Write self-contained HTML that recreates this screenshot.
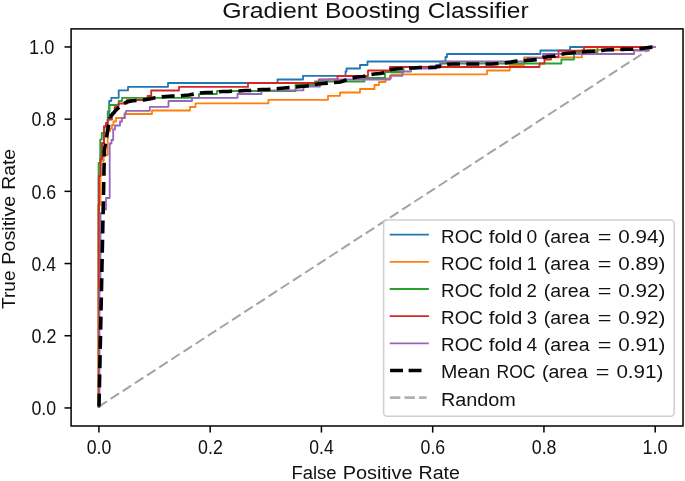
<!DOCTYPE html><html><head><meta charset="utf-8"><style>html,body{margin:0;padding:0;background:#fff;overflow:hidden}svg{display:block;filter:blur(0.35px)}</style></head><body>
<svg width="685" height="481" viewBox="0 0 685 481">
<rect width="685" height="481" fill="#fff"/>
<text x="222.17" y="17.50" font-size="22.5" font-family="Liberation Sans, sans-serif" fill="#111" textLength="95.35" lengthAdjust="spacingAndGlyphs">Gradient</text>
<text x="324.98" y="17.50" font-size="22.5" font-family="Liberation Sans, sans-serif" fill="#111" textLength="95.53" lengthAdjust="spacingAndGlyphs">Boosting</text>
<text x="427.86" y="17.50" font-size="22.5" font-family="Liberation Sans, sans-serif" fill="#111" textLength="100.76" lengthAdjust="spacingAndGlyphs">Classifier</text>
<line x1="99.51" y1="406.15" x2="655.19" y2="45.45" stroke="#a4a4a4" stroke-width="2.0" stroke-dasharray="10.1,4.386" stroke-dashoffset="1.26"/>
<path d="M98.8,408.0 L98.8,176.0 L100.5,176.0 L100.5,159.0 L102.0,159.0 L102.0,143.0 L104.0,143.0 L104.0,126.5 L106.0,126.5 L106.0,123.0 L107.7,123.0 L107.7,119.6 L109.2,119.6 L109.2,101.0 L111.3,101.0 L111.3,97.8 L118.7,97.8 L118.7,90.4 L128.0,90.4 L128.0,86.8 L168.0,86.8 L168.0,83.0 L277.5,83.0 L277.5,79.5 L303.0,79.5 L303.0,75.8 L345.5,75.8 L345.5,71.5 L346.5,71.5 L346.5,68.5 L360.0,68.5 L360.0,65.0 L367.5,65.0 L367.5,61.5 L445.5,61.5 L445.5,57.0 L447.0,57.0 L447.0,54.0 L540.4,54.0 L540.4,50.5 L570.0,50.5 L570.0,47.0 L655.3,47.0" fill="none" stroke="#1f77b4" stroke-width="1.8" stroke-linejoin="round"/>
<path d="M98.8,408.0 L98.2,400.0 L98.2,205.0 L100.5,205.0 L100.5,161.0 L103.8,161.0 L103.8,155.0 L107.7,155.0 L107.7,131.0 L110.0,131.0 L110.0,128.5 L112.0,128.5 L112.0,125.0 L113.5,125.0 L113.5,121.5 L116.0,121.5 L116.0,118.0 L123.5,118.0 L125.0,118.0 L125.0,114.0 L152.0,114.0 L152.0,110.5 L190.0,110.5 L190.0,107.0 L195.5,107.0 L195.5,103.4 L268.4,103.4 L268.4,99.8 L328.0,99.8 L328.0,95.8 L340.0,95.8 L340.0,92.5 L360.0,92.5 L360.0,89.0 L374.5,89.0 L374.5,85.0 L379.0,85.0 L379.0,82.0 L385.5,82.0 L385.5,78.5 L391.0,78.5 L391.0,74.3 L487.0,74.3 L487.0,70.5 L509.7,70.5 L509.7,65.0 L524.0,65.0 L524.0,57.3 L582.0,57.3 L582.0,50.0 L640.0,50.0 L640.0,47.0 L655.3,47.0" fill="none" stroke="#ff7f0e" stroke-width="1.8" stroke-linejoin="round"/>
<path d="M98.8,408.0 L98.6,176.0 L98.6,163.0 L100.2,163.0 L100.2,139.5 L101.8,139.5 L101.8,133.0 L106.5,133.0 L106.5,128.0 L107.7,128.0 L107.7,111.5 L109.5,111.5 L109.5,105.0 L118.7,105.0 L118.7,101.0 L122.0,101.0 L122.0,97.8 L199.0,97.8 L199.0,94.0 L217.0,94.0 L217.0,91.0 L295.5,91.0 L295.5,85.0 L315.0,85.0 L315.0,81.5 L364.5,81.5 L364.5,78.0 L385.0,78.0 L385.0,72.0 L403.5,72.0 L403.5,67.0 L440.0,67.0 L440.0,63.5 L561.4,63.5 L561.4,59.5 L574.0,59.5 L574.0,52.0 L597.5,52.0 L597.5,47.0 L655.3,47.0" fill="none" stroke="#2ca02c" stroke-width="1.8" stroke-linejoin="round"/>
<path d="M98.8,408.0 L98.8,176.0 L100.5,176.0 L100.5,159.0 L102.0,159.0 L102.0,143.0 L104.0,143.0 L104.0,126.5 L106.0,126.5 L106.0,123.0 L107.7,123.0 L107.7,119.6 L112.0,119.6 L112.0,113.0 L114.7,113.0 L114.7,107.0 L118.5,107.0 L118.5,103.5 L127.0,103.5 L127.0,100.0 L147.5,100.0 L147.5,96.0 L151.2,96.0 L151.2,90.5 L179.0,90.5 L179.0,86.9 L248.0,86.9 L248.0,83.0 L319.0,83.0 L319.0,79.3 L337.5,79.3 L337.5,76.0 L368.0,76.0 L368.0,70.5 L390.0,70.5 L390.0,67.0 L539.5,67.0 L539.5,63.5 L544.5,63.5 L544.5,59.5 L551.0,59.5 L551.0,57.0 L558.5,57.0 L558.5,50.7 L584.0,50.7 L584.0,47.0 L655.3,47.0" fill="none" stroke="#d62728" stroke-width="1.8" stroke-linejoin="round"/>
<path d="M98.8,408.0 L99.5,400.0 L99.5,289.0 L100.5,289.0 L100.5,213.0 L104.0,213.0 L104.0,209.5 L106.0,209.5 L106.0,198.0 L109.7,198.0 L109.7,143.5 L111.5,143.5 L111.5,140.0 L113.2,140.0 L113.2,129.5 L115.0,129.5 L115.0,125.5 L120.0,125.5 L120.0,121.5 L122.0,121.5 L122.0,118.0 L124.5,118.0 L124.5,113.5 L126.0,113.5 L126.0,110.8 L149.8,110.8 L149.8,106.8 L168.5,106.8 L168.5,101.0 L192.0,101.0 L192.0,97.8 L237.5,97.8 L237.5,94.0 L261.4,94.0 L261.4,90.3 L303.5,90.3 L303.5,86.5 L320.0,86.5 L320.0,80.0 L329.0,80.0 L329.0,79.5 L390.0,79.5 L390.0,75.8 L402.5,75.8 L402.5,71.5 L411.0,71.5 L411.0,68.5 L436.0,68.5 L436.0,65.0 L441.4,65.0 L441.4,61.5 L527.0,61.5 L527.0,58.0 L543.0,58.0 L543.0,54.0 L634.0,54.0 L634.0,50.5 L649.0,50.5 L649.0,47.0 L655.3,47.0" fill="none" stroke="#9467bd" stroke-width="1.8" stroke-linejoin="round"/>
<path d="M99.00,406.60 L104.42,150.00 L110.04,117.00" fill="none" stroke="#000" stroke-width="3.6" stroke-dasharray="13.0,6.24" stroke-dashoffset="0.00"/>
<path d="M110.04,117.00 L115.66,110.50 L121.28,105.00 L126.91,102.00 L132.53,100.80 L138.15,100.30 L143.77,100.00 L149.39,99.00 L155.01,97.70 L160.63,97.00 L166.25,96.50 L171.88,96.00 L177.50,96.00 L183.12,95.50 L188.74,95.00 L194.36,94.00 L199.98,93.00 L205.60,92.50 L211.22,92.50 L216.85,92.00 L222.47,91.50 L228.09,91.50 L233.71,91.00 L239.33,91.00 L244.95,90.50 L250.57,90.50 L256.19,90.00 L261.81,89.50 L267.44,89.50 L273.06,89.00 L278.68,88.50 L284.30,88.00 L289.92,87.50 L295.54,87.00 L301.16,86.50 L306.78,86.00 L312.41,85.00 L318.03,84.00 L323.65,83.50 L329.27,83.00 L334.89,82.50 L340.51,82.00 L346.13,80.00 L351.75,78.00 L357.38,77.00 L363.00,76.50 L368.62,75.00 L374.24,74.00 L379.86,73.50 L385.48,72.50 L391.10,69.50 L396.72,69.00 L402.34,68.50 L407.97,68.00 L413.59,68.00 L419.21,67.50 L424.83,67.50 L430.45,67.40 L436.07,67.00 L441.69,66.00 L447.31,64.20 L452.94,64.00 L458.56,64.00 L464.18,64.00 L469.80,64.00 L475.42,64.00 L481.04,64.00 L486.66,64.00 L492.28,64.00 L497.91,63.50 L503.53,63.20 L509.15,62.40 L514.77,61.40 L520.39,60.90 L526.01,60.50 L531.63,60.10 L537.25,59.60 L542.87,57.50 L548.50,56.50 L554.12,56.00 L559.74,54.50 L565.36,53.50 L570.98,53.00" fill="none" stroke="#000" stroke-width="3.6" stroke-dasharray="13.0,6.24" stroke-dashoffset="18.90"/>
<path d="M570.98,53.00 L576.60,52.50 L582.22,52.00 L587.84,51.50 L593.47,51.20 L599.09,51.00 L604.71,50.00 L610.33,49.80 L615.95,49.60 L621.57,49.40 L627.19,49.30 L632.81,49.20 L638.44,48.70 L644.06,48.20 L649.68,47.20 L655.30,47.00" fill="none" stroke="#000" stroke-width="3.6" stroke-dasharray="13.0,6.24" stroke-dashoffset="8.20"/>
<rect x="71.1" y="28.9" width="611.9" height="397.1" fill="none" stroke="#000" stroke-width="1.5"/>
<line x1="98.91" y1="426.0" x2="98.91" y2="432.60" stroke="#000" stroke-width="1.5"/>
<line x1="71.1" y1="407.95" x2="64.50" y2="407.95" stroke="#000" stroke-width="1.5"/>
<text x="86.81" y="454.10" font-size="19.6" font-family="Liberation Sans, sans-serif" fill="#111" textLength="24.57" lengthAdjust="spacingAndGlyphs">0.0</text>
<text x="31.49" y="415.25" font-size="19.6" font-family="Liberation Sans, sans-serif" fill="#111" textLength="24.68" lengthAdjust="spacingAndGlyphs">0.0</text>
<line x1="210.17" y1="426.0" x2="210.17" y2="432.60" stroke="#000" stroke-width="1.5"/>
<line x1="71.1" y1="335.75" x2="64.50" y2="335.75" stroke="#000" stroke-width="1.5"/>
<text x="198.05" y="454.10" font-size="19.6" font-family="Liberation Sans, sans-serif" fill="#111" textLength="24.81" lengthAdjust="spacingAndGlyphs">0.2</text>
<text x="31.48" y="343.05" font-size="19.6" font-family="Liberation Sans, sans-serif" fill="#111" textLength="24.92" lengthAdjust="spacingAndGlyphs">0.2</text>
<line x1="321.42" y1="426.0" x2="321.42" y2="432.60" stroke="#000" stroke-width="1.5"/>
<line x1="71.1" y1="263.55" x2="64.50" y2="263.55" stroke="#000" stroke-width="1.5"/>
<text x="309.32" y="454.10" font-size="19.6" font-family="Liberation Sans, sans-serif" fill="#111" textLength="24.39" lengthAdjust="spacingAndGlyphs">0.4</text>
<text x="31.50" y="270.85" font-size="19.6" font-family="Liberation Sans, sans-serif" fill="#111" textLength="24.49" lengthAdjust="spacingAndGlyphs">0.4</text>
<line x1="432.68" y1="426.0" x2="432.68" y2="432.60" stroke="#000" stroke-width="1.5"/>
<line x1="71.1" y1="191.35" x2="64.50" y2="191.35" stroke="#000" stroke-width="1.5"/>
<text x="420.57" y="454.10" font-size="19.6" font-family="Liberation Sans, sans-serif" fill="#111" textLength="24.67" lengthAdjust="spacingAndGlyphs">0.6</text>
<text x="31.49" y="198.65" font-size="19.6" font-family="Liberation Sans, sans-serif" fill="#111" textLength="24.77" lengthAdjust="spacingAndGlyphs">0.6</text>
<line x1="543.93" y1="426.0" x2="543.93" y2="432.60" stroke="#000" stroke-width="1.5"/>
<line x1="71.1" y1="119.15" x2="64.50" y2="119.15" stroke="#000" stroke-width="1.5"/>
<text x="531.82" y="454.10" font-size="19.6" font-family="Liberation Sans, sans-serif" fill="#111" textLength="24.67" lengthAdjust="spacingAndGlyphs">0.8</text>
<text x="31.49" y="126.45" font-size="19.6" font-family="Liberation Sans, sans-serif" fill="#111" textLength="24.77" lengthAdjust="spacingAndGlyphs">0.8</text>
<line x1="655.19" y1="426.0" x2="655.19" y2="432.60" stroke="#000" stroke-width="1.5"/>
<line x1="71.1" y1="46.95" x2="64.50" y2="46.95" stroke="#000" stroke-width="1.5"/>
<text x="642.42" y="454.10" font-size="19.6" font-family="Liberation Sans, sans-serif" fill="#111" textLength="25.25" lengthAdjust="spacingAndGlyphs">1.0</text>
<text x="29.04" y="54.25" font-size="19.6" font-family="Liberation Sans, sans-serif" fill="#111" textLength="25.25" lengthAdjust="spacingAndGlyphs">1.0</text>
<text x="291.45" y="479.20" font-size="19.2" font-family="Liberation Sans, sans-serif" fill="#111" textLength="45.17" lengthAdjust="spacingAndGlyphs">False</text>
<text x="342.69" y="479.20" font-size="19.2" font-family="Liberation Sans, sans-serif" fill="#111" textLength="69.81" lengthAdjust="spacingAndGlyphs">Positive</text>
<text x="418.50" y="479.20" font-size="19.2" font-family="Liberation Sans, sans-serif" fill="#111" textLength="41.40" lengthAdjust="spacingAndGlyphs">Rate</text>
<text transform="translate(15.40,308.50) rotate(-90)" x="-0.47" y="0" font-size="19.2" font-family="Liberation Sans, sans-serif" fill="#111" textLength="38.45" lengthAdjust="spacingAndGlyphs">True</text>
<text transform="translate(15.40,308.50) rotate(-90)" x="43.88" y="0" font-size="19.2" font-family="Liberation Sans, sans-serif" fill="#111" textLength="68.88" lengthAdjust="spacingAndGlyphs">Positive</text>
<text transform="translate(15.40,308.50) rotate(-90)" x="118.69" y="0" font-size="19.2" font-family="Liberation Sans, sans-serif" fill="#111" textLength="40.86" lengthAdjust="spacingAndGlyphs">Rate</text>
<rect x="383.6" y="220.0" width="290.6" height="196.2" rx="3.5" fill="#fff" fill-opacity="0.8" stroke="#cfcfcf" stroke-width="1.5"/>
<line x1="389.7" y1="234.70" x2="428.9" y2="234.70" stroke="#1f77b4" stroke-width="1.8"/>
<text x="441.05" y="242.70" font-size="19.2" font-family="Liberation Sans, sans-serif" fill="#111" textLength="41.86" lengthAdjust="spacingAndGlyphs">ROC</text>
<text x="488.69" y="242.70" font-size="19.2" font-family="Liberation Sans, sans-serif" fill="#111" textLength="33.67" lengthAdjust="spacingAndGlyphs">fold</text>
<text x="526.57" y="242.70" font-size="19.2" font-family="Liberation Sans, sans-serif" fill="#111" textLength="10.70" lengthAdjust="spacingAndGlyphs">0</text>
<text x="543.84" y="242.70" font-size="19.2" font-family="Liberation Sans, sans-serif" fill="#111" textLength="45.69" lengthAdjust="spacingAndGlyphs">(area</text>
<text x="597.75" y="242.70" font-size="19.2" font-family="Liberation Sans, sans-serif" fill="#111" textLength="13.67" lengthAdjust="spacingAndGlyphs">=</text>
<text x="618.34" y="242.70" font-size="19.2" font-family="Liberation Sans, sans-serif" fill="#111" textLength="46.93" lengthAdjust="spacingAndGlyphs">0.94)</text>
<line x1="389.7" y1="261.85" x2="428.9" y2="261.85" stroke="#ff7f0e" stroke-width="1.8"/>
<text x="441.05" y="269.85" font-size="19.2" font-family="Liberation Sans, sans-serif" fill="#111" textLength="41.86" lengthAdjust="spacingAndGlyphs">ROC</text>
<text x="488.69" y="269.85" font-size="19.2" font-family="Liberation Sans, sans-serif" fill="#111" textLength="33.67" lengthAdjust="spacingAndGlyphs">fold</text>
<text x="526.79" y="269.85" font-size="19.2" font-family="Liberation Sans, sans-serif" fill="#111" textLength="10.18" lengthAdjust="spacingAndGlyphs">1</text>
<text x="543.84" y="269.85" font-size="19.2" font-family="Liberation Sans, sans-serif" fill="#111" textLength="45.69" lengthAdjust="spacingAndGlyphs">(area</text>
<text x="597.75" y="269.85" font-size="19.2" font-family="Liberation Sans, sans-serif" fill="#111" textLength="13.67" lengthAdjust="spacingAndGlyphs">=</text>
<text x="618.34" y="269.85" font-size="19.2" font-family="Liberation Sans, sans-serif" fill="#111" textLength="46.93" lengthAdjust="spacingAndGlyphs">0.89)</text>
<line x1="389.7" y1="289.00" x2="428.9" y2="289.00" stroke="#2ca02c" stroke-width="1.8"/>
<text x="441.05" y="297.00" font-size="19.2" font-family="Liberation Sans, sans-serif" fill="#111" textLength="41.86" lengthAdjust="spacingAndGlyphs">ROC</text>
<text x="488.69" y="297.00" font-size="19.2" font-family="Liberation Sans, sans-serif" fill="#111" textLength="33.67" lengthAdjust="spacingAndGlyphs">fold</text>
<text x="526.55" y="297.00" font-size="19.2" font-family="Liberation Sans, sans-serif" fill="#111" textLength="10.34" lengthAdjust="spacingAndGlyphs">2</text>
<text x="543.84" y="297.00" font-size="19.2" font-family="Liberation Sans, sans-serif" fill="#111" textLength="45.69" lengthAdjust="spacingAndGlyphs">(area</text>
<text x="597.75" y="297.00" font-size="19.2" font-family="Liberation Sans, sans-serif" fill="#111" textLength="13.67" lengthAdjust="spacingAndGlyphs">=</text>
<text x="618.34" y="297.00" font-size="19.2" font-family="Liberation Sans, sans-serif" fill="#111" textLength="46.93" lengthAdjust="spacingAndGlyphs">0.92)</text>
<line x1="389.7" y1="316.15" x2="428.9" y2="316.15" stroke="#d62728" stroke-width="1.8"/>
<text x="441.05" y="324.15" font-size="19.2" font-family="Liberation Sans, sans-serif" fill="#111" textLength="41.86" lengthAdjust="spacingAndGlyphs">ROC</text>
<text x="488.69" y="324.15" font-size="19.2" font-family="Liberation Sans, sans-serif" fill="#111" textLength="33.67" lengthAdjust="spacingAndGlyphs">fold</text>
<text x="526.83" y="324.15" font-size="19.2" font-family="Liberation Sans, sans-serif" fill="#111" textLength="10.28" lengthAdjust="spacingAndGlyphs">3</text>
<text x="543.84" y="324.15" font-size="19.2" font-family="Liberation Sans, sans-serif" fill="#111" textLength="45.69" lengthAdjust="spacingAndGlyphs">(area</text>
<text x="597.75" y="324.15" font-size="19.2" font-family="Liberation Sans, sans-serif" fill="#111" textLength="13.67" lengthAdjust="spacingAndGlyphs">=</text>
<text x="618.34" y="324.15" font-size="19.2" font-family="Liberation Sans, sans-serif" fill="#111" textLength="46.93" lengthAdjust="spacingAndGlyphs">0.92)</text>
<line x1="389.7" y1="343.30" x2="428.9" y2="343.30" stroke="#9467bd" stroke-width="1.8"/>
<text x="441.05" y="351.30" font-size="19.2" font-family="Liberation Sans, sans-serif" fill="#111" textLength="41.86" lengthAdjust="spacingAndGlyphs">ROC</text>
<text x="488.69" y="351.30" font-size="19.2" font-family="Liberation Sans, sans-serif" fill="#111" textLength="33.67" lengthAdjust="spacingAndGlyphs">fold</text>
<text x="526.59" y="351.30" font-size="19.2" font-family="Liberation Sans, sans-serif" fill="#111" textLength="10.67" lengthAdjust="spacingAndGlyphs">4</text>
<text x="543.84" y="351.30" font-size="19.2" font-family="Liberation Sans, sans-serif" fill="#111" textLength="45.69" lengthAdjust="spacingAndGlyphs">(area</text>
<text x="597.75" y="351.30" font-size="19.2" font-family="Liberation Sans, sans-serif" fill="#111" textLength="13.67" lengthAdjust="spacingAndGlyphs">=</text>
<text x="618.34" y="351.30" font-size="19.2" font-family="Liberation Sans, sans-serif" fill="#111" textLength="46.93" lengthAdjust="spacingAndGlyphs">0.91)</text>
<line x1="390.1" y1="370.45" x2="423.0" y2="370.45" stroke="#000" stroke-width="3.6" stroke-dasharray="12.9,5.6"/>
<text x="440.95" y="378.45" font-size="19.2" font-family="Liberation Sans, sans-serif" fill="#111" textLength="49.13" lengthAdjust="spacingAndGlyphs">Mean</text>
<text x="496.47" y="378.45" font-size="19.2" font-family="Liberation Sans, sans-serif" fill="#111" textLength="39.03" lengthAdjust="spacingAndGlyphs">ROC</text>
<text x="541.91" y="378.45" font-size="19.2" font-family="Liberation Sans, sans-serif" fill="#111" textLength="45.69" lengthAdjust="spacingAndGlyphs">(area</text>
<text x="595.83" y="378.45" font-size="19.2" font-family="Liberation Sans, sans-serif" fill="#111" textLength="13.67" lengthAdjust="spacingAndGlyphs">=</text>
<text x="616.41" y="378.45" font-size="19.2" font-family="Liberation Sans, sans-serif" fill="#111" textLength="46.93" lengthAdjust="spacingAndGlyphs">0.91)</text>
<line x1="390.0" y1="397.60" x2="426.7" y2="397.60" stroke="#b2b2b2" stroke-width="2.7" stroke-dasharray="10.4,4.1"/>
<text x="440.94" y="405.60" font-size="19.2" font-family="Liberation Sans, sans-serif" fill="#111" textLength="74.91" lengthAdjust="spacingAndGlyphs">Random</text>
</svg></body></html>
